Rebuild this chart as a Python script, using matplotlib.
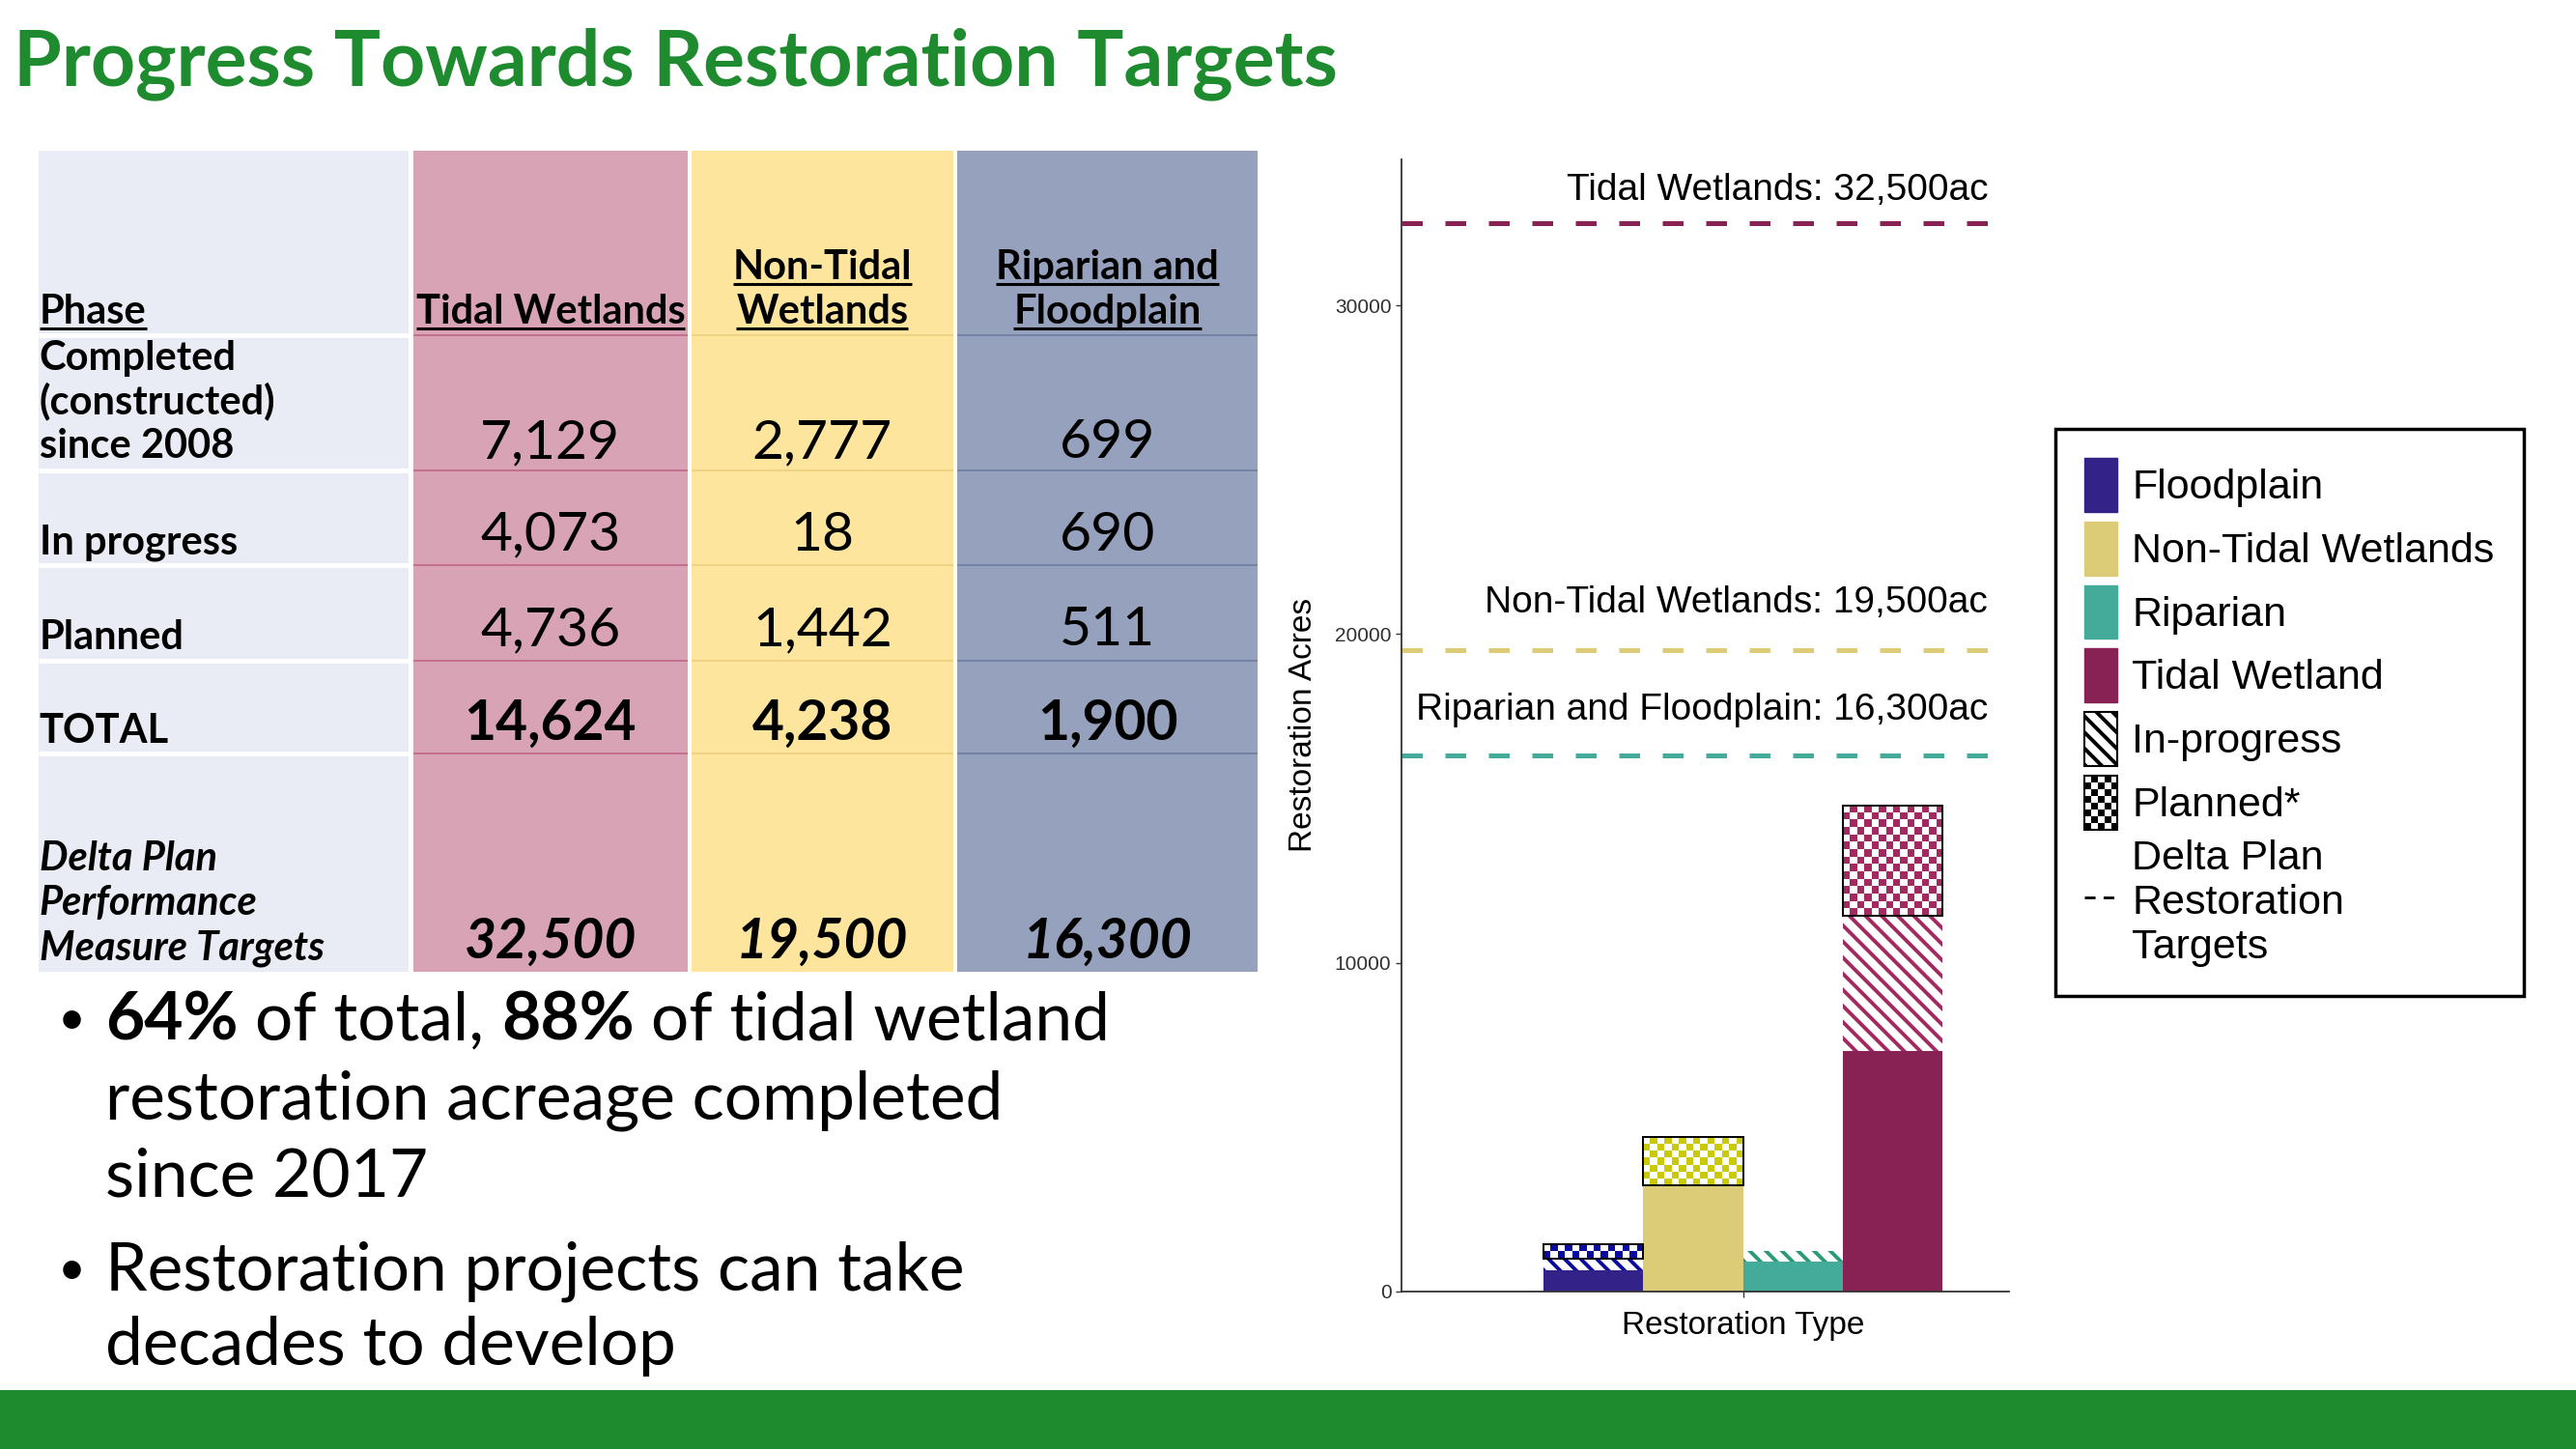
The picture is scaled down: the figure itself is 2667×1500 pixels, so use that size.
import numpy as np
import matplotlib
matplotlib.use('Agg')
import matplotlib.pyplot as plt
import matplotlib.patches as mpatches
import matplotlib.lines as mlines
from matplotlib.colors import ListedColormap
from matplotlib.legend_handler import HandlerBase
from matplotlib.font_manager import FontProperties

# ---- data ----
title = 'Progress Towards Restoration Targets'

table_headers = [['Tidal Wetlands'], ['Non-Tidal', 'Wetlands'], ['Riparian and', 'Floodplain']]
row_labels = [['Completed', '(constructed)', 'since 2008'], ['In progress'], ['Planned'],
              ['TOTAL'], ['Delta Plan', 'Performance', 'Measure Targets']]
tidal_col = [7129, 4073, 4736, 14624, 32500]
nontidal_col = [2777, 18, 1442, 4238, 19500]
riparian_col = [699, 690, 511, 1900, 16300]

bar_types = ['Floodplain', 'Non-Tidal Wetlands', 'Riparian', 'Tidal Wetland']
acres_completed = [630, 3220, 890, 7300]
acres_in_progress = [350, 18, 330, 4120]
acres_planned = [440, 1470, 0, 3360]

target_labels = ['Tidal Wetlands: 32,500ac', 'Non-Tidal Wetlands: 19,500ac',
                 'Riparian and Floodplain: 16,300ac']
target_acres = [32500, 19500, 16300]

bullet1 = [('64%', 'bold'), ('of total,', 'normal'), ('88%', 'bold'), ('of tidal wetland', 'normal')]
bullet_lines = ['restoration acreage completed', 'since 2017']
bullet2 = ['Restoration projects can take', 'decades to develop']

# ---- styles ----
green = '#1E8B2E'
fill_colors = ['#332288', '#DDCC77', '#44AA99', '#882255']
pattern_colors = ['#0A0A9E', '#C9C905', '#2A9B77', '#A32A60']
target_colors = ['#882255', '#DDCC77', '#44AA99']
col_fills = ['#E9EBF5', '#D9A3B6', '#FEE59D', '#95A1BD']
sep_colors = ['white', '#C26A8A', '#EFD083', '#7180A3']

plt.rcParams['hatch.linewidth'] = 2.8
TF = 'Lato'      # slide text
CF = 'Liberation Sans'   # chart text

W, H = 1568, 882   # layout units (slide pixels)
fig = plt.figure(figsize=(26.67, 15), dpi=100)
renderer = fig.canvas.get_renderer()
bg = fig.add_axes([0, 0, 1, 1])
bg.set_xlim(0, W)
bg.set_ylim(H, 0)
bg.axis('off')
scale = fig.get_figwidth() * fig.dpi / W


def text_w(s, **kw):
    fp = FontProperties(family=TF, **kw)
    w, h, d = renderer.get_text_width_height_descent(s, fp, ismath=False)
    return w / scale


# title and footer bar
bg.text(8, 52, title, family=TF, fontsize=58, fontweight='bold', color=green, va='baseline')
bg.add_patch(mpatches.Rectangle((0, 846), W, 40, color=green, lw=0))

# ---- table ----
col_edges = [(23.6, 248.5), (251.4, 418.7), (421, 580), (582.5, 765.6)]
row_edges = [91.7, 204, 286.5, 343.7, 402, 458.6, 591.6]
for (x0, x1), fc in zip(col_edges, col_fills):
    bg.add_patch(mpatches.Rectangle((x0, row_edges[0]), x1 - x0, row_edges[-1] - row_edges[0], fc=fc, lw=0))
for k, ((x0, x1), sc) in enumerate(zip(col_edges, sep_colors)):
    for y in row_edges[1:-1]:
        bg.plot([x0, x1], [y, y], color=sc, lw=3.5 if k == 0 else 1.3, solid_capstyle='butt')

hdr_size = 30
col_centers = [(a + b) / 2 for a, b in col_edges]


def underline(t):
    bb = t.get_window_extent(renderer)
    inv = bg.transData.inverted()
    (xa, _), (xb, _) = inv.transform([(bb.x0, bb.y0), (bb.x1, bb.y0)])
    y = t.get_position()[1] + 3
    bg.plot([xa, xb], [y, y], color='black', lw=2.2, solid_capstyle='butt')


t = bg.text(24, 197, 'Phase', family=TF, fontsize=hdr_size, fontweight='bold', va='baseline')
underline(t)
for cx, lines in zip(col_centers[1:], table_headers):
    for j, line in enumerate(reversed(lines)):
        t = bg.text(cx, 197 - 27 * j, line, family=TF, fontsize=hdr_size, fontweight='bold',
                    ha='center', va='baseline')
        underline(t)

label_base = [279, 337, 395, 452, 584]
value_base = [279, 335, 393, 450, 583]
row_style = [('normal', 'normal')] * 3 + [('bold', 'normal'), ('bold', 'italic')]
for r, lines in enumerate(row_labels):
    for j, line in enumerate(reversed(lines)):
        bg.text(24, label_base[r] - 27 * j, line, family=TF, fontsize=hdr_size, fontweight='bold',
                fontstyle='italic' if r == 4 else 'normal', va='baseline')
    wt, st = row_style[r]
    for cx, col in zip(col_centers[1:], [tidal_col, nontidal_col, riparian_col]):
        bg.text(cx, value_base[r], f'{col[r]:,}', family=TF, fontsize=41, fontweight=wt,
                fontstyle=st, ha='center', va='baseline')

# ---- bullets ----
bsize = 50
space = text_w('n n', size=bsize) - text_w('nn', size=bsize)
bg.text(35, 630, '\u2022', family=TF, fontsize=36, va='baseline')
x = 64
for seg, wt in bullet1:
    bg.text(x, 633, seg, family=TF, fontsize=bsize, fontweight=wt, va='baseline')
    x += text_w(seg, size=bsize, weight=wt) + space
for line, yb in zip(bullet_lines, [681, 728]):
    bg.text(64, yb, line, family=TF, fontsize=bsize, va='baseline')
bg.text(35, 782, '\u2022', family=TF, fontsize=36, va='baseline')
for line, yb in zip(bullet2, [785, 831]):
    bg.text(64, yb, line, family=TF, fontsize=bsize, va='baseline')

# ---- chart ----
ax = fig.add_axes([853 / W, 1 - 786 / H, 416 / W, 689 / H])
xmin, xmax = 0.4, 1.6
ymin, ymax = 0, 34450
ax.set_xlim(xmin, xmax)
ax.set_ylim(ymin, ymax)
bw = 0.175
xpos = 1 + np.array([-1.5, -0.5, 0.5, 1.5]) * bw

for i in range(4):
    ax.bar(xpos[i], acres_completed[i], bw, color=fill_colors[i], lw=0, zorder=2)
    if acres_in_progress[i] > 0:
        ax.bar(xpos[i], acres_in_progress[i], bw, bottom=acres_completed[i], facecolor='white',
               edgecolor=pattern_colors[i], hatch='\\\\', lw=0, zorder=2)


def checker(x0, x1, y0, y1, color, sq=7.5):
    p0 = ax.transData.transform((x0, y0))
    p1 = ax.transData.transform((x1, y1))
    nx = max(1, int(round(abs(p1[0] - p0[0]) / sq)))
    ny = max(1, int(round(abs(p1[1] - p0[1]) / sq)))
    grid = np.indices((ny, nx)).sum(axis=0) % 2
    ax.imshow(grid, extent=(x0, x1, y0, y1), cmap=ListedColormap(['white', color]), vmin=0, vmax=1,
              aspect='auto', interpolation='nearest', zorder=2)
    ax.add_patch(mpatches.Rectangle((x0, y0), x1 - x0, y1 - y0, fill=False, ec='black', lw=1.4, zorder=3))


for i in range(4):
    if acres_planned[i] > 0:
        base = acres_completed[i] + acres_in_progress[i]
        checker(xpos[i] - bw / 2, xpos[i] + bw / 2, base, base + acres_planned[i], pattern_colors[i])

ax.set_xlim(xmin, xmax)
ax.set_ylim(ymin, ymax)

# the legend panel hides the right end of the plot panel
line_end = 0.863
lab_off = [1000, 1450, 1400]
for lab, val, c, off in zip(target_labels, target_acres, target_colors, lab_off):
    ax.axhline(val, xmin=0, xmax=line_end, color=c, lw=3.6, ls=(0, (4.3, 4.7)), zorder=1)
    ax.text(1.43, val + off, lab, family=CF, fontsize=28, ha='right', va='center')

for s in ['top', 'right']:
    ax.spines[s].set_visible(False)
for s in ['left', 'bottom']:
    ax.spines[s].set_color('#333333')
    ax.spines[s].set_linewidth(1.3)
ax.spines['bottom'].set_bounds(xmin, 1.467)
ax.set_yticks([0, 10000, 20000, 30000])
ax.set_xticks([1])
ax.set_xticklabels([''])
ax.tick_params(labelsize=15, labelcolor='#303030', color='#333333', length=4, width=1)
for lb in ax.get_yticklabels():
    lb.set_family(CF)
ax.set_ylabel('Restoration Acres', family=CF, fontsize=24, labelpad=12)
ax.set_xlabel('Restoration Type', family=CF, fontsize=24, labelpad=7)


class CheckerPatch(mpatches.Patch):
    pass


class CheckerHandler(HandlerBase):
    def create_artists(self, legend, orig_handle, xdescent, ydescent, width, height, fontsize, trans):
        arts = []
        nx, ny = 5, 8
        dx, dy = width / nx, height / ny
        for i in range(nx):
            for j in range(ny):
                if (i + j) % 2 == 0:
                    arts.append(mpatches.Rectangle((-xdescent + i * dx, -ydescent + j * dy), dx, dy,
                                                   fc='black', lw=0, transform=trans))
        arts.append(mpatches.Rectangle((-xdescent, -ydescent), width, height, fill=False,
                                       ec='black', lw=1.5, transform=trans))
        return arts


handles = [mpatches.Patch(color=c) for c in fill_colors]
handles.append(mpatches.Patch(facecolor='white', edgecolor='black', hatch='\\\\', lw=1.5))
handles.append(CheckerPatch())
handles.append(mlines.Line2D([], [], color='black', lw=2, ls=(0, (4, 3))))
labels = bar_types + ['In-progress', 'Planned*', 'Delta Plan\nRestoration\nTargets']
leg = fig.legend(handles, labels, loc='upper left', bbox_to_anchor=(1251 / W, 1 - 261 / H),
                 borderaxespad=0, prop=dict(family=CF, size=31), frameon=True, fancybox=False,
                 edgecolor='black', framealpha=1, handlelength=0.8, handleheight=1.62,
                 handletextpad=0.35, labelspacing=0.23, borderpad=0.7,
                 handler_map={CheckerPatch: CheckerHandler()})
leg.get_frame().set_linewidth(2.5)

fig.savefig('out.png', dpi=100)
